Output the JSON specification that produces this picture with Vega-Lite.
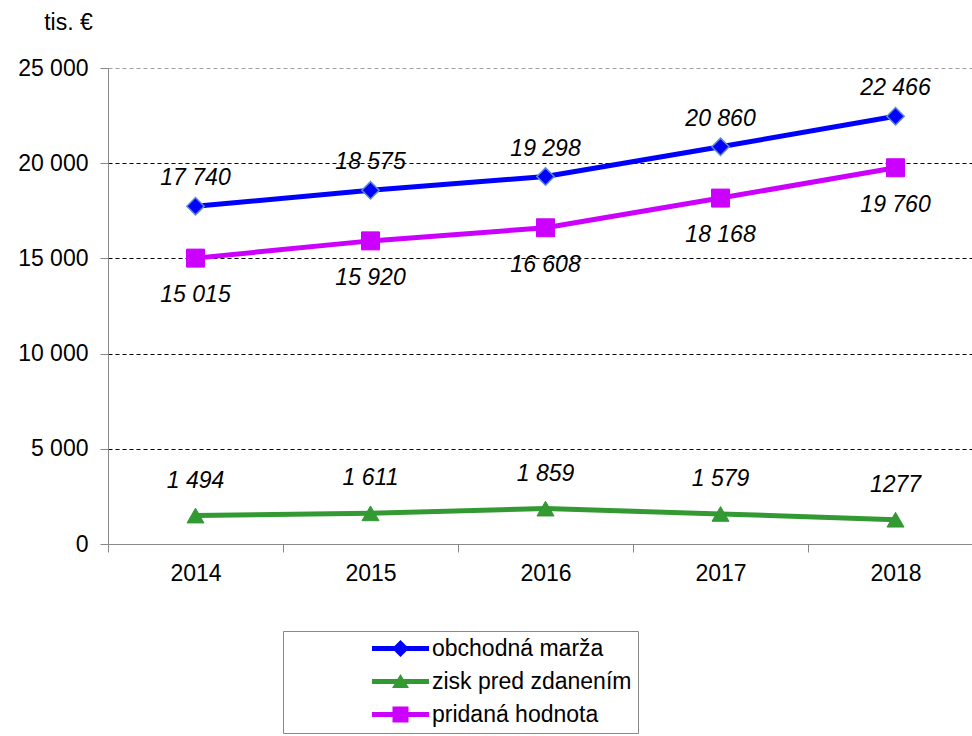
{
  "$schema": "https://vega.github.io/schema/vega-lite/v6.json",
  "width": 864,
  "height": 476,
  "autosize": {"type": "none"},
  "padding": {"left": 108, "top": 68, "right": 0, "bottom": 192},
  "background": "white",
  "data": {
    "values": [
      {"year": 2014, "series": "obchodná marža", "value": 17740, "label": "17 740"},
      {"year": 2015, "series": "obchodná marža", "value": 18575, "label": "18 575"},
      {"year": 2016, "series": "obchodná marža", "value": 19298, "label": "19 298"},
      {"year": 2017, "series": "obchodná marža", "value": 20860, "label": "20 860"},
      {"year": 2018, "series": "obchodná marža", "value": 22466, "label": "22 466"},
      {"year": 2014, "series": "zisk pred zdanením", "value": 1494, "label": "1 494"},
      {"year": 2015, "series": "zisk pred zdanením", "value": 1611, "label": "1 611"},
      {"year": 2016, "series": "zisk pred zdanením", "value": 1859, "label": "1 859"},
      {"year": 2017, "series": "zisk pred zdanením", "value": 1579, "label": "1 579"},
      {"year": 2018, "series": "zisk pred zdanením", "value": 1277, "label": "1277"},
      {"year": 2014, "series": "pridaná hodnota", "value": 15015, "label": "15 015"},
      {"year": 2015, "series": "pridaná hodnota", "value": 15920, "label": "15 920"},
      {"year": 2016, "series": "pridaná hodnota", "value": 16608, "label": "16 608"},
      {"year": 2017, "series": "pridaná hodnota", "value": 18168, "label": "18 168"},
      {"year": 2018, "series": "pridaná hodnota", "value": 19760, "label": "19 760"}
    ]
  },
  "encoding": {
    "x": {"field": "year", "type": "quantitative", "scale": {"domain": [2013.5, 2018.437], "nice": false, "zero": false}, "axis": null},
    "y": {
      "field": "value", "type": "quantitative",
      "scale": {"domain": [0, 25000], "nice": false},
      "axis": {
        "values": [0, 5000, 10000, 15000, 20000, 25000],
        "labelExpr": "replace(format(datum.value, ',.0f'), ',', ' ')",
        "grid": true,
        "gridDash": [4, 3],
        "gridWidth": 1,
        "gridColor": {"condition": {"test": "datum.value == 25000", "value": "#a0a0a0"}, "value": "black"},
        "gridOpacity": {"condition": {"test": "datum.value == 0", "value": 0}, "value": 1},
        "domainColor": "#888888",
        "tickColor": "#888888",
        "tickSize": 8,
        "labelFontSize": 23,
        "labelColor": "black",
        "labelPadding": 12,
        "title": "tis. €",
        "titleAngle": 0,
        "titleX": -40,
        "titleY": -46,
        "titleAlign": "center",
        "titleBaseline": "middle",
        "titleFontSize": 23,
        "titleFontWeight": "normal",
        "titleColor": "black"
      }
    }
  },
  "layer": [
    {
      "mark": {"type": "line", "strokeWidth": 5},
      "encoding": {
        "x": {"field": "year", "type": "quantitative", "axis": {"orient": "bottom", "values": [2013.5, 2014.5, 2015.5, 2016.5, 2017.5], "labels": false, "ticks": true, "tickSize": 8, "tickColor": "#888888", "domainColor": "#888888", "grid": false, "title": null}},
        "color": {"field": "series", "type": "nominal", "scale": {"domain": ["obchodná marža", "zisk pred zdanením", "pridaná hodnota"], "range": ["#0000FF", "#339933", "#CC00FF"]}, "legend": {"title": " ", "titleOrient": "left", "titlePadding": 100}}
      }
    },
    {
      "transform": [{"filter": "datum.series == 'obchodná marža'"}],
      "mark": {"type": "point", "shape": "diamond", "filled": true, "size": 300, "fill": "#0000FF", "stroke": "#5B8BD0", "strokeWidth": 1.5, "opacity": 1},
      "encoding": {
        "x": {"field": "year", "type": "quantitative", "axis": {"orient": "bottom", "values": [2014, 2015, 2016, 2017, 2018], "format": "d", "ticks": false, "domain": false, "labelFontSize": 23, "labelColor": "black", "labelPadding": 18, "grid": false, "title": null}}
      }
    },
    {
      "transform": [{"filter": "datum.series == 'zisk pred zdanením'"}],
      "mark": {"type": "point", "shape": "triangle-up", "filled": true, "size": 289, "fill": "#339933", "stroke": "#339933", "strokeWidth": 1, "opacity": 1},
      "encoding": {}
    },
    {
      "transform": [{"filter": "datum.series == 'pridaná hodnota'"}],
      "mark": {"type": "point", "shape": "square", "filled": true, "size": 324, "fill": "#CC00FF", "stroke": "#CC00FF", "strokeWidth": 1, "opacity": 1},
      "encoding": {}
    },
    {
      "transform": [{"filter": "datum.series == 'obchodná marža'"}],
      "mark": {"type": "text", "fontSize": 23, "fontStyle": "italic", "color": "black", "dy": -28, "baseline": "middle"},
      "encoding": {"text": {"field": "label"}}
    },
    {
      "transform": [{"filter": "datum.series == 'zisk pred zdanením'"}],
      "mark": {"type": "text", "fontSize": 23, "fontStyle": "italic", "color": "black", "dy": -35, "baseline": "middle"},
      "encoding": {"text": {"field": "label"}}
    },
    {
      "transform": [{"filter": "datum.series == 'pridaná hodnota'"}],
      "mark": {"type": "text", "fontSize": 23, "fontStyle": "italic", "color": "black", "dy": 37, "baseline": "middle"},
      "encoding": {"text": {"field": "label"}}
    },
    {
      "mark": {"type": "point", "filled": true, "opacity": 0},
      "encoding": {
        "color": {"field": "series", "type": "nominal", "legend": {"title": " ", "titleOrient": "left", "titlePadding": 100}},
        "shape": {
          "field": "series", "type": "nominal",
          "scale": {
            "domain": ["obchodná marža", "zisk pred zdanením", "pridaná hodnota"],
            "range": [
              "M-2.85,-0.24H2.85V0.24H-2.85Z M-0.85,0L0,-0.85L0.85,0L0,0.85Z",
              "M-2.85,-0.24H2.85V0.24H-2.85Z M0,-0.75L0.85,0.65L-0.85,0.65Z",
              "M-2.85,-0.24H2.85V0.24H-2.85Z M-0.8,-0.8H0.8V0.8H-0.8Z"
            ]
          },
          "legend": {"title": " ", "titleOrient": "left", "titlePadding": 100}
        }
      }
    }
  ],
  "resolve": {"axis": {"x": "independent"}},
  "config": {
    "font": "Liberation Sans",
    "view": {"stroke": null},
    "legend": {"orient": "none", "legendX": 175, "legendY": 563, "padding": 6, "strokeColor": "#888888", "fillColor": "white", "labelFontSize": 23, "labelColor": "black", "labelLimit": 400, "labelOffset": 20, "symbolSize": 400, "symbolOpacity": 1, "symbolStrokeWidth": 0, "rowPadding": 9, "cornerRadius": 0}
  }
}
